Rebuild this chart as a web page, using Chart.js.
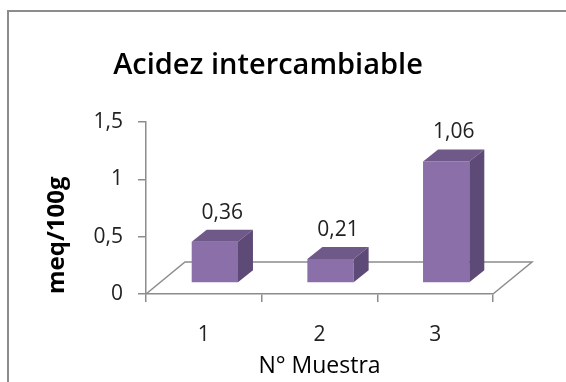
<!DOCTYPE html>
<html>
<head>
<meta charset="utf-8">
<script src="https://cdn.jsdelivr.net/npm/chart.js@4.4.1/dist/chart.umd.min.js"></script>
<style>
  html, body { margin: 0; padding: 0; background: #fff; }
  canvas { display: block; }
</style>
</head>
<body>
<canvas id="myChart" width="566" height="382"></canvas>
<script>
var muestras = ['1', '2', '3']
var acidez = [0.36, 0.21, 1.06]
var yTicks = [0, 0.5, 1, 1.5]

var frontColor = '#8a6fa8'
var topColor = '#6e5989'
var sideColor = '#5d4a76'
var axisColor = '#8c8c8c'

function coma(v) {
  return String(v).replace('.', ',')
}

// excel-like 3d look: floor, shifted bars, top and side faces, value labels
var bars3d = {
  id: 'bars3d',
  beforeDraw(chart) {
    var ctx = chart.ctx
    ctx.save()
    ctx.fillStyle = '#fff'
    ctx.fillRect(0, 0, chart.width, chart.height)
    ctx.strokeStyle = axisColor
    ctx.lineWidth = 2
    ctx.strokeRect(8, 11, chart.width + 20, chart.height + 20)
    ctx.restore()
  },
  beforeDatasetsDraw(chart) {
    var ctx = chart.ctx
    var a = chart.chartArea
    ctx.save()
    ctx.strokeStyle = axisColor
    ctx.lineWidth = 1.5
    ctx.beginPath()
    ctx.moveTo(a.left, a.bottom)
    ctx.lineTo(a.left + 39, a.bottom - 32)
    ctx.lineTo(a.right + 39, a.bottom - 32)
    ctx.lineTo(a.right, a.bottom)
    ctx.stroke()
    ctx.restore()
    ctx.save()
    ctx.translate(11, -11)
  },
  afterDatasetsDraw(chart) {
    var ctx = chart.ctx
    var meta = chart.getDatasetMeta(0)
    var dx = 15, dy = -12
    meta.data.forEach((bar, i) => {
      var x1 = bar.x - bar.width / 2
      var x2 = bar.x + bar.width / 2
      ctx.fillStyle = topColor
      ctx.beginPath()
      ctx.moveTo(x1, bar.y)
      ctx.lineTo(x2, bar.y)
      ctx.lineTo(x2 + dx, bar.y + dy)
      ctx.lineTo(x1 + dx, bar.y + dy)
      ctx.closePath()
      ctx.fill()
      ctx.fillStyle = sideColor
      ctx.beginPath()
      ctx.moveTo(x2, bar.y)
      ctx.lineTo(x2 + dx, bar.y + dy)
      ctx.lineTo(x2 + dx, bar.base + dy)
      ctx.lineTo(x2, bar.base)
      ctx.closePath()
      ctx.fill()

      ctx.fillStyle = '#222'
      ctx.font = '21px "Open Sans"'
      ctx.textAlign = 'center'
      ctx.textBaseline = 'middle'
      ctx.fillText(acidez[i].toFixed(2).replace('.', ','), bar.x + dx / 2, bar.y + dy - 17)
    })
    ctx.restore()
  }
}

var chart = new Chart(document.getElementById('myChart'), {
  type: 'bar',
  data: {
    labels: muestras,
    datasets: [{
      data: acidez,
      backgroundColor: frontColor,
      borderWidth: 0,
      categoryPercentage: 1,
      barPercentage: 0.4,
      clip: false
    }]
  },
  options: {
    responsive: false,
    devicePixelRatio: 1,
    animation: false,
    layout: { padding: { left: 43, right: 73, top: 0, bottom: 0 } },
    plugins: {
      legend: { display: false },
      tooltip: { enabled: false },
      title: {
        display: true,
        text: 'Acidez intercambiable',
        color: '#000',
        font: { family: 'Open Sans', size: 29, weight: '600' },
        padding: { top: 48, bottom: 39.2 }
      }
    },
    scales: {
      x: {
        afterFit(scale) { scale.height = 88 },
        border: { display: true, color: axisColor, width: 1.5 },
        grid: { drawOnChartArea: false, drawTicks: true, tickLength: 8, color: axisColor, lineWidth: 1.5 },
        ticks: { color: '#222', padding: 20, font: { family: 'Open Sans', size: 21 } },
        title: {
          display: true,
          text: 'N° Muestra',
          color: '#000',
          font: { family: 'Open Sans', size: 23 },
          padding: { top: 0, bottom: 2 }
        }
      },
      y: {
        min: 0,
        max: 1.5,
        afterFit(scale) { scale.width = 103 },
        afterBuildTicks(scale) { scale.ticks = yTicks.map(v => ({ value: v })) },
        border: { display: true, color: axisColor, width: 1.5 },
        grid: { drawOnChartArea: false, drawTicks: true, tickLength: 8, color: axisColor, lineWidth: 1.5 },
        ticks: { color: '#222', padding: 15, font: { family: 'Open Sans', size: 21 }, callback: v => coma(v) },
        title: {
          display: true,
          text: 'meq/100g',
          align: 'start',
          color: '#000',
          font: { family: 'Open Sans', size: 24, weight: 'bold' },
          padding: { top: 0, bottom: 0 }
        }
      }
    }
  },
  plugins: [bars3d]
})
</script>
</body>
</html>
